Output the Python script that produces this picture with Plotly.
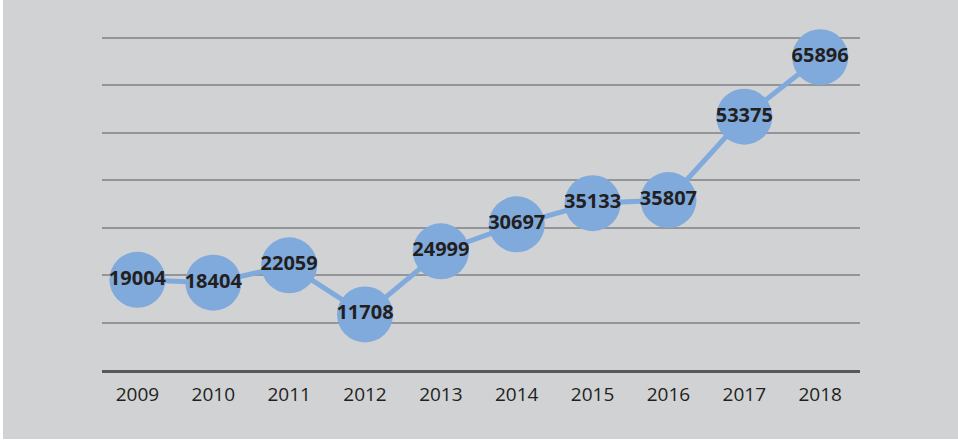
import plotly.graph_objects as go

years = ["2009", "2010", "2011", "2012", "2013", "2014", "2015", "2016", "2017", "2018"]
values = [19004, 18404, 22059, 11708, 24999, 30697, 35133, 35807, 53375, 65896]
y_grid = [0, 10000, 20000, 30000, 40000, 50000, 60000, 70000]

W, H = 958, 440
L, R, T, B = 102, 98, 33, 70
pw, ph = W - L - R, H - T - B

fig = go.Figure()
fig.add_trace(go.Scatter(
    x=years, y=values,
    mode="lines+markers+text",
    text=[str(v) for v in values],
    textposition="middle center",
    line=dict(color="#80aadb", width=5),
    marker=dict(size=56, color="#80aadb"),
    textfont=dict(family="Open Sans", size=20, color="#231f20", weight="bold"),
    cliponaxis=False,
    hoverinfo="skip",
))

fig.update_layout(
    width=W, height=H,
    margin=dict(l=L, r=R, t=T, b=B, pad=0),
    paper_bgcolor="white",
    plot_bgcolor="rgba(0,0,0,0)",
    showlegend=False,
    shapes=[dict(
        type="rect", xref="paper", yref="paper",
        x0=(3 - L) / pw, x1=(W + 5 - L) / pw,
        y0=-(439 - (H - B)) / ph, y1=(H - B + 5) / ph,
        fillcolor="#d1d2d4", line=dict(width=0), layer="below",
    )],
    xaxis=dict(
        type="category", range=[-0.467, 9.525],
        showgrid=False, zeroline=False,
        showline=True, linecolor="#58595b", linewidth=3,
        ticks="", ticklabelstandoff=5,
        tickfont=dict(family="Open Sans", size=19, color="#231f20"),
    ),
    yaxis=dict(
        range=[0, 71000], tickvals=y_grid, showticklabels=False,
        showgrid=True, gridcolor="#939598", gridwidth=2,
        zeroline=False, showline=False, ticks="",
    ),
)

fig.write_html("out.html", config={"displayModeBar": False})

with open("out.html", "r", encoding="utf-8") as f:
    html = f.read()
html = html.replace("<head>", "<head><style>html,body{margin:0;padding:0;}</style>", 1)
with open("out.html", "w", encoding="utf-8") as f:
    f.write(html)
